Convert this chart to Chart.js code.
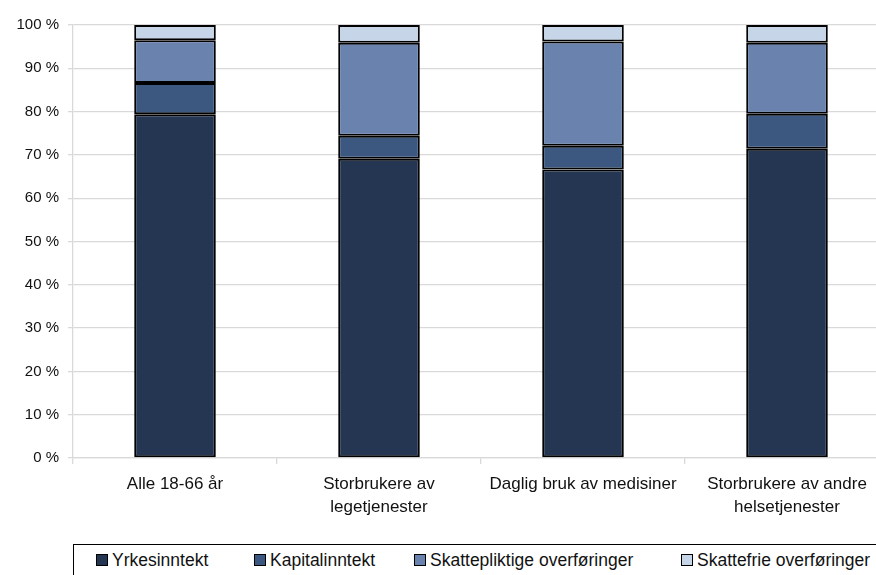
<!DOCTYPE html>
<html>
<head>
<meta charset="utf-8">
<script src="https://cdn.jsdelivr.net/npm/chart.js@4"></script>
<style>
  html, body { margin: 0; padding: 0; background: #fff; overflow: hidden; }
  #wrap { position: relative; width: 900px; height: 535px; }
  #legend {
    position: absolute; left: 73px; top: 544px; width: 820px; height: 40px;
    border: 1px solid #000; box-sizing: border-box;
    font-family: "Liberation Sans", Arial, sans-serif; font-size: 17.5px; color: #111;
  }
  #legend .item { position: absolute; top: 5px; white-space: nowrap; }
  #legend .box {
    display: inline-block; width: 10px; height: 10px; border: 1px solid #000;
    margin-right: 4px; vertical-align: 0px;
  }
</style>
</head>
<body>
<div id="wrap"><canvas id="incomeChart"></canvas></div>
<div id="legend"></div>

<script>
// categories and income shares (%) per group
const groups = [
  "Alle 18-66 år",
  ["Storbrukere av", "legetjenester"],
  "Daglig bruk av medisiner",
  ["Storbrukere av andre", "helsetjenester"]
];
const seriesNames = ["Yrkesinntekt", "Kapitalinntekt", "Skattepliktige overføringer", "Skattefrie overføringer"];
const yrkesinntekt = [79.4, 69.1, 66.6, 71.4];
const kapitalinntekt = [7.2, 5.3, 5.5, 8.1];
const skattepliktige = [9.9, 21.5, 24.1, 16.4];
const skattefrie = [3.5, 4.1, 3.8, 4.1];
const yTicks = [0, 10, 20, 30, 40, 50, 60, 70, 80, 90, 100];

const colors = ["#243652", "#3d5880", "#6a82ae", "#c6d6e8"];
const seriesData = [yrkesinntekt, kapitalinntekt, skattepliktige, skattefrie];

const datasets = seriesNames.map((name, i) => ({
  label: name,
  data: seriesData[i],
  backgroundColor: colors[i],
  borderColor: "#000",
  borderWidth: 2,
  borderSkipped: false,
  barPercentage: 0.4,
  categoryPercentage: 1
}));

const font = { family: "'Liberation Sans', Arial, sans-serif" };

new Chart(document.getElementById("incomeChart"), {
  type: "bar",
  data: { labels: groups, datasets: datasets },
  options: {
    responsive: true,
    maintainAspectRatio: false,
    animation: false,
    layout: { padding: { top: 25, right: 11, left: 0 } },
    plugins: {
      legend: { display: false },
      tooltip: { enabled: false }
    },
    scales: {
      x: {
        stacked: true,
        grid: {
          offset: true,
          drawOnChartArea: false,
          color: "#d9d9d9",
          tickLength: 6,
          lineWidth: 1.3
        },
        border: { color: "#d9d9d9", width: 1.3 },
        ticks: {
          color: "#111",
          font: { ...font, size: 17, lineHeight: 1.4 },
          maxRotation: 0,
          padding: 8
        },
        afterFit: s => { s.height = 77; }
      },
      y: {
        stacked: true,
        min: 0,
        max: 100,
        afterBuildTicks: s => { s.ticks = yTicks.map(v => ({ value: v })); },
        grid: { color: "#d9d9d9", tickLength: 5, lineWidth: 1.3 },
        border: { color: "#d9d9d9", width: 1.3 },
        ticks: {
          color: "#111",
          font: { ...font, size: 15 },
          padding: 9,
          callback: v => v + " %"
        },
        afterFit: s => { s.width = 73; }
      }
    }
  }
});

// legend row, item offsets inside the framed box
const legendX = [22, 180, 340, 607];
const legend = document.getElementById("legend");
seriesNames.forEach((name, i) => {
  const el = document.createElement("span");
  el.className = "item";
  el.style.left = legendX[i] + "px";
  el.innerHTML = `<span class="box" style="background:${colors[i]}"></span>${name}`;
  legend.appendChild(el);
});
</script>
</body>
</html>
